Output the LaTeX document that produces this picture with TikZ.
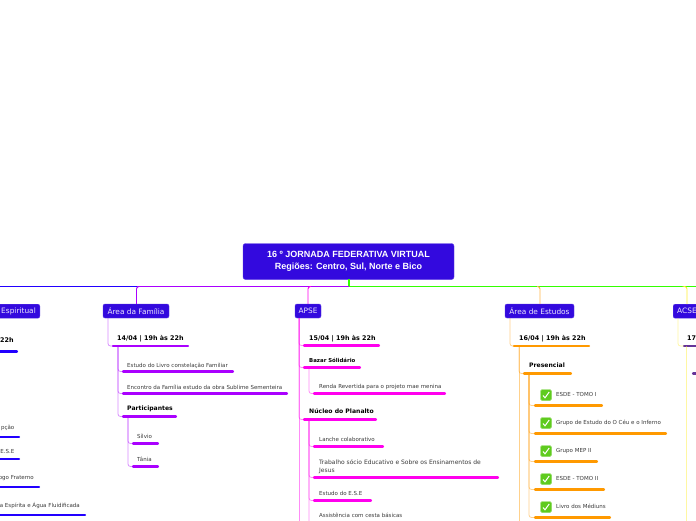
\documentclass[tikz,border=0pt]{standalone}
\usepackage{fontspec}
\setmainfont{DejaVu Sans}
\newfontfamily\titlefont{Liberation Sans}
\usetikzlibrary{calc}
\definecolor{boxblue}{HTML}{3309DE}
\definecolor{cblue}{HTML}{2200FF}
\definecolor{cpurple}{HTML}{AA00FF}
\definecolor{cmag}{HTML}{FF00EE}
\definecolor{cgreen}{HTML}{33FF00}
\definecolor{corange}{HTML}{FF9900}
\definecolor{cyel}{HTML}{FFEE33}
\definecolor{cdark}{HTML}{663399}
\definecolor{ctext}{HTML}{3A3A3A}
\definecolor{ckgreen}{HTML}{5FCB1E}
\tikzset{
  x=1pt,y=-1pt,
  mainbox/.style={fill=boxblue,draw=boxblue!80!white,line width=.4pt,rounded corners=2.5pt,text=white,inner sep=0pt,align=center,font=\titlefont\bfseries\fontsize{9}{11.5}\selectfont,minimum width=211pt,minimum height=36pt},
  areabox/.style={fill=boxblue,draw=boxblue!80!white,line width=.4pt,rounded corners=2pt,text=white!90!boxblue,inner sep=0pt,font=\fontsize{7.4}{8}\selectfont,minimum height=14pt},
  main/.style={line width=1pt,line join=round},
  conn/.style={line width=.8pt,rounded corners=2.5pt,opacity=.45},
  midbar/.style={line width=2.2pt,line cap=round},
  head/.style={anchor=base west,inner sep=0pt,text=black,font=\bfseries\fontsize{6.4}{7}\selectfont},
  sub/.style={anchor=base west,inner sep=0pt,text=black,font=\bfseries\fontsize{6.1}{7}\selectfont},
  subsmall/.style={sub,font=\bfseries\fontsize{5.4}{7}\selectfont},
  leaf/.style={anchor=base west,inner sep=0pt,text=ctext,font=\fontsize{5.5}{8}\selectfont,align=left},
  leafwide/.style={leaf,font=\fontsize{6}{8}\selectfont},
  leafr/.style={leaf,anchor=base east},
  ckbox/.style={fill=ckgreen,draw=ckgreen!70!white,line width=.4pt,rounded corners=1.5pt,minimum size=11pt,inner sep=0pt},
}
% \topic{name}{x1}{x2}{ybar}{colour}{textx}{ytext}{style}{text}
\newcommand\topic[9]{%
  \coordinate (#1-l) at (#2,#4);\coordinate (#1-r) at (#3,#4);
  \draw[midbar,#5] (#1-l) -- (#1-r);
  \node[#8] (#1-t) at (#6,#7) {#9};}
% \ckmark{name}{y}
\newcommand\ckmark[2]{%
  \node[ckbox] (#1) at (546,#2) {};
  \draw[white,line width=1pt] ($(#1)+(-3,.5)$) -- ($(#1)+(-1,2.8)$) -- ($(#1)+(3.2,-3)$);}
\begin{document}
\begin{tikzpicture}
\useasboundingbox (0,0) rectangle (696,520);
\clip (0,0) rectangle (696,520);
\fill[white] (0,0) rectangle (696,520);

% root and areas
\node[mainbox] (root) at (348.5,261.5) {16 º JORNADA FEDERATIVA VIRTUAL\hspace{5pt}\\Regiões: Centro, Sul, Norte e Bico};
\node[areabox,anchor=north east,minimum width=60pt] (esp) at (40,304) {};
\node[anchor=east,inner sep=0pt,text=white!90!boxblue,font=\fontsize{7.4}{8}\selectfont] (espt) at (36,311) {Espiritual};
\node[areabox,minimum width=66pt] (fam) at (136,311) {Área da Família};
\node[areabox,minimum width=26pt] (apse) at (308,311) {APSE};
\node[areabox,minimum width=69pt] (est) at (539.5,311) {Área de Estudos};
\node[areabox,anchor=north west,minimum width=40pt] (acse) at (673,304) {};
\node[anchor=west,inner sep=0pt,text=white!90!boxblue,font=\fontsize{7.4}{8}\selectfont] (acset) at (677,311) {ACSE};

% main branches
\coordinate (trunk) at (349,286.5);
\coordinate (le) at (0,286.5);
\coordinate (re) at (696,286.5);
\draw[line width=1.6pt,cgreen] (349,279) -- (trunk);
\draw[main,cblue] (le) -- (137,286.5);
\draw[main,cpurple] (137,286.5) -- (trunk);
\draw[main,cgreen] (trunk) -- (re);
\draw[line width=.9pt,rounded corners=2.5pt,cpurple] (139,286.5) -| (fam.north -| 136.5,0);
\draw[line width=.9pt,rounded corners=2.5pt,cmag] (311,286.5) -| (apse.north -| 308,0);
\draw[line width=.9pt,rounded corners=2.5pt,corange!70] (537,286.5) -| (est.north -| 540,0);
\draw[line width=.9pt,rounded corners=2.5pt,cyel] (685,286.5) -| (acse.north -| 687,0);

% left cut-off branch
\topic{e1}{-5}{17}{351.5}{cblue}{0}{342.5}{head}{22h}
\topic{e2}{-5}{19}{437}{cblue}{14.5}{429}{leafr}{pção}
\topic{e3}{-5}{19}{459}{cblue}{14.5}{453.5}{leafr}{E.S.E}
\topic{e4}{-5}{39}{487}{cblue}{34}{479}{leafr}{ogo Fraterno}
\topic{e5}{-5}{85}{515}{cblue}{80}{507}{leafr}{a Espírita e Água Fluidificada}

% Area da Familia
\topic{f0}{113}{188}{346}{cpurple}{117}{340}{head}{14/04 | 19h às 22h}
\topic{f1}{123}{233}{371.5}{cpurple}{127}{367}{leaf}{Estudo do Livro constelação Familiar}
\topic{f2}{123}{287}{393.5}{cpurple}{127}{389}{leaf}{Encontro da Família estudo da obra Sublime Sementeira}
\topic{f3}{123}{176}{416.5}{cpurple}{127}{410.5}{sub}{Participantes}
\topic{f4}{133}{158}{443.5}{cpurple}{137}{438}{leaf}{Sílvio}
\topic{f5}{133}{158}{466.5}{cpurple}{137}{461}{leaf}{Tânia}
\draw[conn,cpurple] (108,318) |- (f0-l);
\draw[conn,cpurple] (118,346) |- (f1-l);
\draw[conn,cpurple] (118,346) |- (f2-l);
\draw[conn,cpurple] (118,346) |- (f3-l);
\draw[conn,cpurple] (128,417) |- (f4-l);
\draw[conn,cpurple] (128,417) |- (f5-l);

% APSE
\topic{a0}{304}{379}{345.5}{cmag}{309}{340}{head}{15/04 | 19h às 22h}
\topic{a1}{304}{360}{367.5}{cmag}{309}{362}{subsmall}{Bazar Sólidário}
\topic{a2}{314}{445}{393.5}{cmag}{319}{388}{leaf}{Renda Revertida para o projeto mae menina}
\topic{a3}{304}{376}{419.5}{cmag}{309}{413.5}{sub}{Núcleo do Planalto}
\topic{a4}{314}{383}{446.5}{cmag}{319}{441}{leaf}{Lanche colaborativo}
\topic{a5}{314}{498}{477.5}{cmag}{319}{472}{leafwide}{Trabalho sócio Educativo e Sobre os Ensinamentos de\\Jesus}
\topic{a6}{314}{371}{500.5}{cmag}{319}{495}{leaf}{Estudo do E.S.E}
\topic{a7}{314}{390}{525}{cmag}{319}{517}{leaf}{Assistência com cesta básicas}
\coordinate (a-v) at (299,530);
\draw[conn,cmag] (299,318) |- (a0-l);
\draw[conn,cmag] (299,318) |- (a1-l);
\draw[conn,cmag] (299,318) |- (a3-l);
\draw[conn,cmag] (299,318) -- (a-v);
\draw[conn,cmag] (309,367) |- (a2-l);
\draw[conn,cmag] (309,420) |- (a4-l);
\draw[conn,cmag] (309,420) |- (a5-l);
\draw[conn,cmag] (309,420) |- (a6-l);
\draw[conn,cmag] (309,420) |- (a7-l);

% Area de Estudos
\topic{s0}{514}{589}{346}{corange}{519}{340}{head}{16/04 | 19h às 22h}
\topic{s1}{524}{571}{373.5}{corange}{529}{367.5}{sub}{Presencial}
\topic{s2}{535}{602}{405.5}{corange}{556}{396.5}{leaf}{ESDE - TOMO I}
\topic{s3}{535}{666}{433.5}{corange}{556}{424.5}{leaf}{Grupo de Estudo do O Céu e o Inferno}
\topic{s4}{535}{597}{461.5}{corange}{556}{452.5}{leaf}{Grupo MEP II}
\topic{s5}{535}{604}{489.5}{corange}{556}{480.5}{leaf}{ESDE - TOMO II}
\topic{s6}{535}{610}{517.5}{corange}{556}{508.5}{leaf}{Livro dos Médiuns}
\coordinate (s-v) at (519,530);
\draw[conn,corange] (510,318) |- (s0-l);
\draw[conn,corange] (519,346) |- (s1-l);
\draw[conn,corange] (519,346) -- (s-v);
\draw[conn,corange] (529,373.5) |- (s2-l);
\draw[conn,corange] (529,373.5) |- (s3-l);
\draw[conn,corange] (529,373.5) |- (s4-l);
\draw[conn,corange] (529,373.5) |- (s5-l);
\draw[conn,corange] (529,373.5) |- (s6-l);
\ckmark{k2}{395}
\ckmark{k3}{423}
\ckmark{k4}{451}
\ckmark{k5}{479}
\ckmark{k6}{507}

% ACSE
\topic{c0}{684}{700}{346}{cdark}{687}{340}{head}{17}
\topic{c1}{693}{700}{373.5}{cdark}{700}{373}{leaf}{}
\coordinate (c-v) at (686,530);
\draw[conn,cyel] (678,318) |- (c0-l);
\draw[conn,cyel] (686,346) -- (c-v);
\end{tikzpicture}
\end{document}
